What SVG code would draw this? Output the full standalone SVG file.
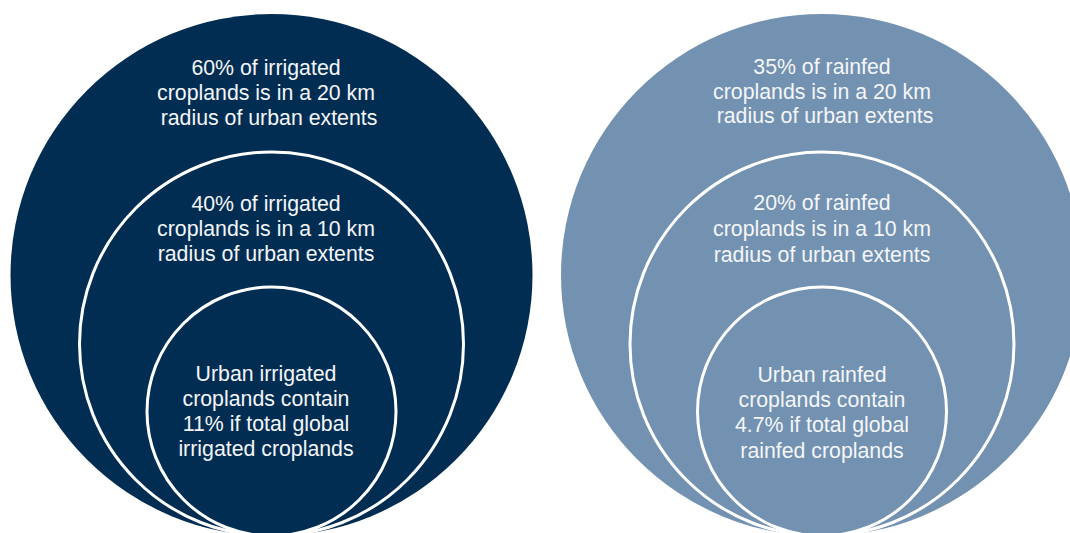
<svg xmlns="http://www.w3.org/2000/svg" width="1070" height="533" viewBox="0 0 1070 533">
<style>
.ring{fill:none;stroke:#ffffff;stroke-width:3}
.t{font-family:"Liberation Sans",Arial,sans-serif;font-size:21.3px;fill:#f4f6f9;text-anchor:middle}
</style>
<rect width="1070" height="533" fill="#ffffff"/>
<g id="irrigated-20km">
<circle cx="271.5" cy="275" r="261" fill="#022d53"/>
<text class="t"><tspan x="266" y="75">60% of irrigated</tspan><tspan x="266" y="100">croplands is in a 20 km</tspan><tspan x="269" y="125">radius of urban extents</tspan></text>
</g>
<g id="irrigated-10km">
<circle class="ring" cx="271.5" cy="344" r="192"/>
<text class="t"><tspan x="266" y="211">40% of irrigated</tspan><tspan x="266" y="236">croplands is in a 10 km</tspan><tspan x="266" y="261">radius of urban extents</tspan></text>
</g>
<g id="irrigated-urban">
<circle class="ring" cx="271.5" cy="411.5" r="124.5"/>
<text class="t"><tspan x="266" y="381">Urban irrigated</tspan><tspan x="266" y="406">croplands contain</tspan><tspan x="266" y="431">11% if total global</tspan><tspan x="266" y="456">irrigated croplands</tspan></text>
</g>
<g id="rainfed-20km">
<circle cx="822" cy="275" r="261" fill="#7391b0"/>
<text class="t"><tspan x="822" y="74">35% of rainfed</tspan><tspan x="822" y="99">croplands is in a 20 km</tspan><tspan x="825" y="123">radius of urban extents</tspan></text>
</g>
<g id="rainfed-10km">
<circle class="ring" cx="822" cy="344" r="192"/>
<text class="t"><tspan x="822" y="210">20% of rainfed</tspan><tspan x="822" y="236">croplands is in a 10 km</tspan><tspan x="822" y="262">radius of urban extents</tspan></text>
</g>
<g id="rainfed-urban">
<circle class="ring" cx="822" cy="411.5" r="124.5"/>
<text class="t"><tspan x="822" y="382">Urban rainfed</tspan><tspan x="822" y="407">croplands contain</tspan><tspan x="822" y="432">4.7% if total global</tspan><tspan x="822" y="458">rainfed croplands</tspan></text>
</g>
<g id="connectors"></g>
</svg>
